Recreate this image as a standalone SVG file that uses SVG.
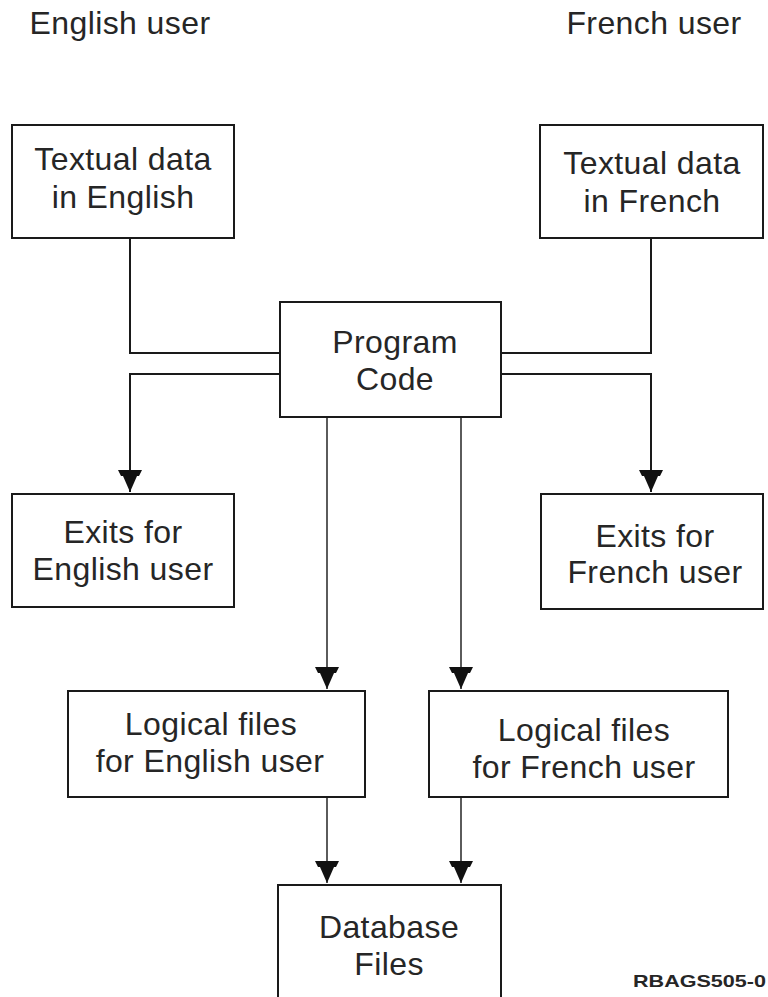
<svg xmlns="http://www.w3.org/2000/svg" width="768" height="997" viewBox="0 0 768 997">
  <style>
    .box { fill: #ffffff; stroke: #1a1a1a; stroke-width: 2; }
    .t { font-family: "Liberation Sans", Arial, sans-serif; font-size: 32px; fill: #262626; text-anchor: middle; letter-spacing: 0.4px; }
    .c { fill: none; stroke: #1a1a1a; stroke-width: 2; }
    .c2 { fill: none; stroke: #333333; stroke-width: 1.6; }
    .id { font-family: "Liberation Sans", Arial, sans-serif; font-size: 17px; font-weight: bold; fill: #262626; }
  </style>
  <defs>
    <marker id="arrow" markerUnits="userSpaceOnUse" viewBox="0 0 22 24" refX="22" refY="12" markerWidth="22" markerHeight="24" orient="auto">
      <path d="M0,0 L6,3 L6,5 L22,12 L6,19 L6,21 L0,24 Z" fill="#111111"/>
    </marker>
  </defs>
  <rect width="768" height="997" fill="#ffffff"/>

  <g id="headers">
    <text class="t" x="120" y="34">English user</text>
    <text class="t" x="654" y="34">French user</text>
  </g>

  <g id="connectors">
    <path class="c" d="M130,238 V353 H280"/>
    <path class="c" d="M280,374 H130 V492" marker-end="url(#arrow)"/>
    <path class="c" d="M651,238 V353 H501"/>
    <path class="c" d="M501,374 H651 V492" marker-end="url(#arrow)"/>
    <path class="c2" d="M327,417 V689" marker-end="url(#arrow)"/>
    <path class="c2" d="M461,417 V689" marker-end="url(#arrow)"/>
    <path class="c2" d="M327,797 V883" marker-end="url(#arrow)"/>
    <path class="c2" d="M461,797 V883" marker-end="url(#arrow)"/>
  </g>

  <g id="textual-english">
    <rect class="box" x="12" y="125" width="222" height="113"/>
    <text class="t" x="123" y="170">Textual data</text>
    <text class="t" x="123" y="208">in English</text>
  </g>

  <g id="textual-french">
    <rect class="box" x="540" y="125" width="223" height="113"/>
    <text class="t" x="652" y="174">Textual data</text>
    <text class="t" x="652" y="212">in French</text>
  </g>

  <g id="program-code">
    <rect class="box" x="280" y="302" width="221" height="115"/>
    <text class="t" x="395" y="353">Program</text>
    <text class="t" x="395" y="390">Code</text>
  </g>

  <g id="exits-english">
    <rect class="box" x="12" y="494" width="222" height="113"/>
    <text class="t" x="123" y="543">Exits for</text>
    <text class="t" x="123" y="580">English user</text>
  </g>

  <g id="exits-french">
    <rect class="box" x="541" y="494" width="222" height="115"/>
    <text class="t" x="655" y="547">Exits for</text>
    <text class="t" x="655" y="583">French user</text>
  </g>

  <g id="logical-english">
    <rect class="box" x="68" y="691" width="297" height="106"/>
    <text class="t" x="211" y="735">Logical files</text>
    <text class="t" x="210" y="772">for English user</text>
  </g>

  <g id="logical-french">
    <rect class="box" x="429" y="691" width="299" height="106"/>
    <text class="t" x="584" y="741">Logical files</text>
    <text class="t" x="584" y="778">for French user</text>
  </g>

  <g id="database-files">
    <rect class="box" x="278" y="885" width="223" height="125"/>
    <text class="t" x="389" y="938">Database</text>
    <text class="t" x="389" y="975">Files</text>
  </g>

  <g id="figure-id">
    <text class="id" x="633" y="987" textLength="133" lengthAdjust="spacingAndGlyphs">RBAGS505-0</text>
  </g>
</svg>
